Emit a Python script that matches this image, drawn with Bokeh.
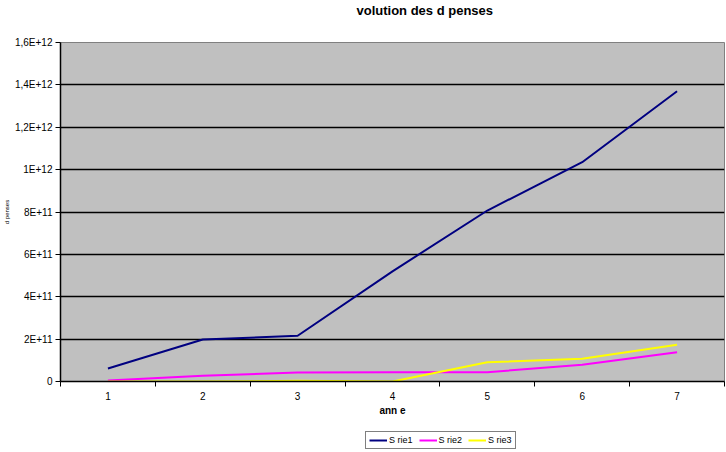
from bokeh.plotting import figure
from bokeh.layouts import column
from bokeh.models import Range1d, FixedTicker, Legend, LegendItem
from bokeh.embed import file_html
from bokeh.resources import INLINE

years = [1, 2, 3, 4, 5, 6, 7]
serie1 = [6.1e10, 1.98e11, 2.16e11, 5.2e11, 8.07e11, 1.035e12, 1.37e12]
serie2 = [5e9, 2.7e10, 4.2e10, 4.4e10, 4.4e10, 7.9e10, 1.38e11]
serie3 = [0, 0, 3e9, 0, 9.1e10, 1.07e11, 1.73e11]
series = [serie1, serie2, serie3]
names = ["S rie1", "S rie2", "S rie3"]
colors = ["#000080", "#FF00FF", "#FFFF00"]
y_ticks = [0, 2e11, 4e11, 6e11, 8e11, 1e12, 1.2e12, 1.4e12, 1.6e12]
y_labels = ["0", "2E+11", "4E+11", "6E+11", "8E+11", "1E+12", "1,2E+12", "1,4E+12", "1,6E+12"]
title_text = "volution des d penses"
x_title = "ann e"
y_title = "d penses"

FONT = "Liberation Sans"


def bare(fig):
    fig.axis.visible = False
    fig.grid.visible = False
    fig.outline_line_color = None
    fig.background_fill_color = "white"
    fig.border_fill_color = "white"


# ---- title strip ----
ptop = figure(width=726, height=18, output_backend="svg", toolbar_location=None,
              x_range=Range1d(0, 1), y_range=Range1d(0, 1),
              min_border_left=0, min_border_right=0, min_border_top=0, min_border_bottom=0)
bare(ptop)
ptop.title.text = title_text
ptop.title.align = "left"
ptop.title.vertical_align = "bottom"
ptop.title.offset = 296
ptop.title.standoff = 1
ptop.title.text_font = FONT
ptop.title.text_font_size = "13px"
ptop.title.text_font_style = "bold"
ptop.title.text_color = "black"

# ---- main chart ----
p = figure(width=726, height=402, output_backend="svg", toolbar_location=None,
           x_range=Range1d(years[0] - 0.5, years[-1] + 0.5),
           y_range=Range1d(y_ticks[0], y_ticks[-1]),
           min_border_left=60, min_border_right=2, min_border_top=24, min_border_bottom=39)

p.border_fill_color = "white"
p.background_fill_color = "#C0C0C0"
p.outline_line_color = "#808080"
p.outline_line_width = 1

p.xgrid.grid_line_color = None
p.ygrid.grid_line_color = "black"
p.ygrid.grid_line_width = 1.3
p.ygrid.ticker = FixedTicker(ticks=y_ticks)

xa = p.xaxis[0]
xa.ticker = FixedTicker(ticks=years, minor_ticks=[y - 0.5 for y in years] + [years[-1] + 0.5])
xa.major_tick_line_color = None
xa.minor_tick_line_color = "black"
xa.minor_tick_out = 5
xa.minor_tick_in = 0
xa.axis_line_color = "black"
xa.axis_line_width = 1.5
xa.major_label_text_font = FONT
xa.major_label_text_font_size = "10px"
xa.major_label_text_color = "black"
xa.major_label_standoff = 4
xa.axis_label = x_title
xa.axis_label_text_font = FONT
xa.axis_label_text_font_size = "10px"
xa.axis_label_text_font_style = "bold"
xa.axis_label_text_color = "black"
xa.axis_label_standoff = 2

ya = p.yaxis[0]
ya.ticker = FixedTicker(ticks=y_ticks)
ya.major_label_overrides = {t: l for t, l in zip(y_ticks, y_labels)}
ya.minor_tick_line_color = None
ya.major_tick_line_color = "black"
ya.major_tick_out = 5
ya.major_tick_in = 0
ya.axis_line_color = "black"
ya.axis_line_width = 1.5
ya.major_label_text_font = FONT
ya.major_label_text_font_size = "10px"
ya.major_label_text_color = "black"
ya.major_label_standoff = 3
ya.axis_label = y_title
ya.axis_label_text_font = FONT
ya.axis_label_text_font_size = "6px"
ya.axis_label_text_font_style = "normal"
ya.axis_label_text_color = "black"
ya.axis_label_standoff = 2

for s, c in zip(series, colors):
    p.line(years, s, line_color=c, line_width=2)

# ---- legend strip (same series, drawn outside its view so only the legend shows) ----
pleg = figure(width=726, height=32, output_backend="svg", toolbar_location=None,
              x_range=Range1d(-20, -10), y_range=Range1d(-20, -10),
              min_border_left=0, min_border_right=0, min_border_top=0, min_border_bottom=0)
bare(pleg)
items = []
for s, n, c in zip(series, names, colors):
    r = pleg.line(years, s, line_color=c, line_width=2)
    items.append(LegendItem(label=n, renderers=[r]))

legend = Legend(items=items, orientation="horizontal", location=(305, 3),
                label_text_font=FONT, label_text_font_size="9px", label_text_color="black",
                glyph_width=18, glyph_height=10, label_standoff=2, spacing=6,
                padding=3, margin=0, border_line_color="black", border_line_width=1.5,
                background_fill_color="white", label_height=10)
pleg.add_layout(legend, "center")

layout = column(ptop, p, pleg, spacing=0)

open("out.html", "w").write(file_html(layout, INLINE))
